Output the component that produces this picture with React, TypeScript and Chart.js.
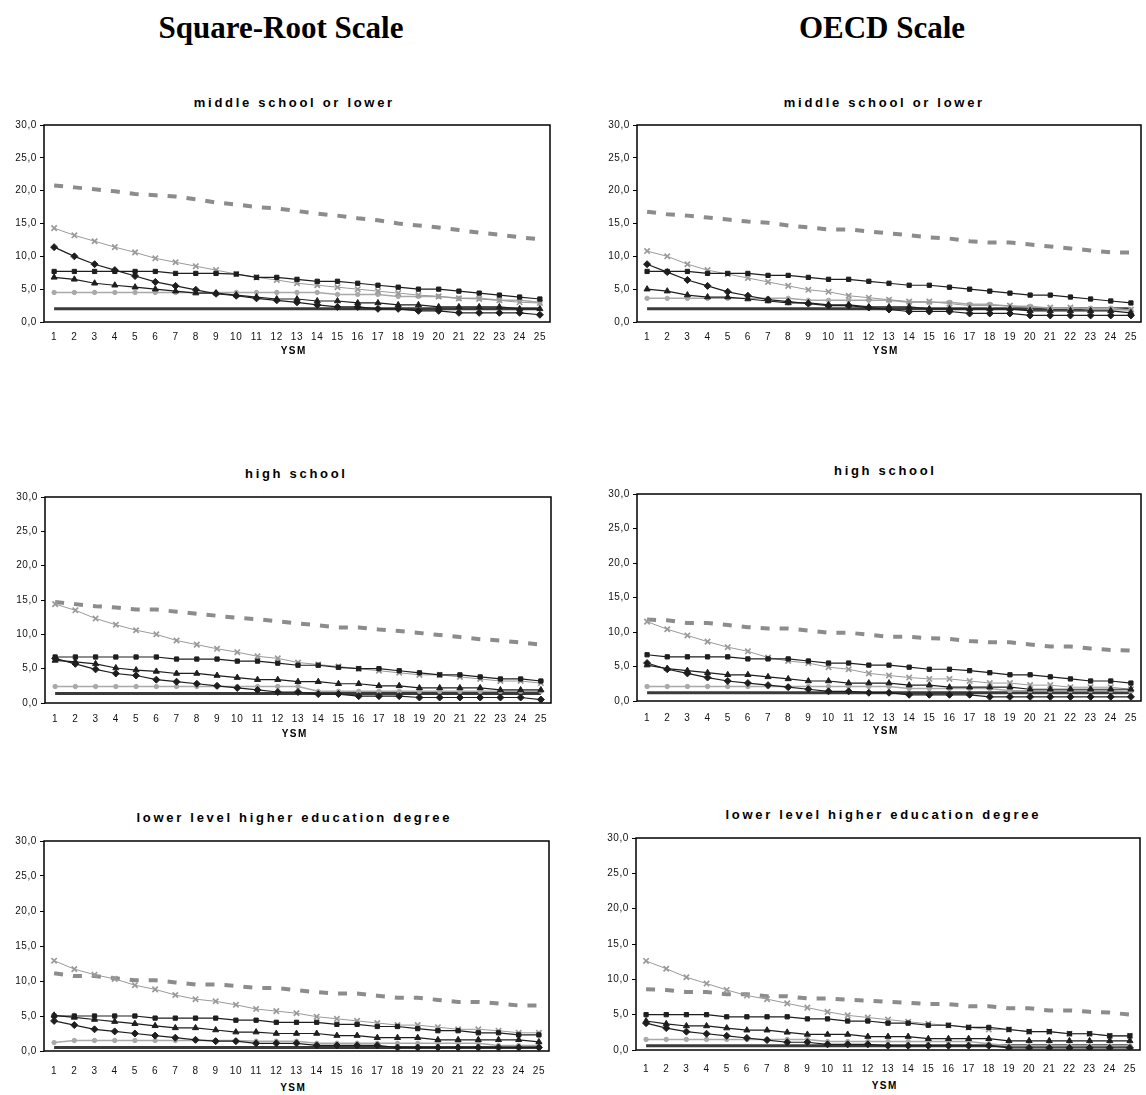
import React, { useEffect, useRef } from 'react';
import { Chart, registerables } from 'chart.js';

Chart.register(...registerables);

// ---------- Data ----------
const YSM_LABELS = ['1','2','3','4','5','6','7','8','9','10','11','12','13','14','15','16','17','18','19','20','21','22','23','24','25'];
const Y_TICKS = [0, 5, 10, 15, 20, 25, 30];

// Square-root scale, middle school or lower
const srMsDashed = [20.8,20.5,20.2,19.9,19.5,19.3,19.1,18.7,18.2,17.9,17.5,17.3,16.9,16.5,16.2,15.8,15.5,15.0,14.7,14.4,14.0,13.6,13.3,12.9,12.6];
const srMsCross = [14.3,13.2,12.3,11.4,10.6,9.7,9.1,8.5,7.9,7.3,6.8,6.4,5.9,5.6,5.3,5.0,4.7,4.4,4.1,3.9,3.6,3.5,3.3,3.0,2.9];
const srMsSquare = [7.7,7.7,7.7,7.7,7.7,7.7,7.4,7.4,7.4,7.3,6.8,6.8,6.5,6.2,6.2,5.9,5.6,5.3,5.0,5.0,4.7,4.4,4.1,3.8,3.5];
const srMsDiamond = [11.4,10.0,8.8,7.9,7.0,6.1,5.5,4.9,4.3,4.0,3.6,3.3,3.0,2.6,2.3,2.3,2.0,2.0,1.7,1.7,1.4,1.4,1.4,1.4,1.1];
const srMsTriangle = [6.8,6.5,5.9,5.6,5.3,5.0,4.7,4.4,4.4,4.1,3.8,3.5,3.5,3.2,3.2,2.9,2.9,2.6,2.6,2.3,2.3,2.3,2.3,2.0,2.0];
const srMsCircle = [4.5,4.5,4.5,4.5,4.5,4.5,4.5,4.5,4.5,4.5,4.5,4.5,4.5,4.5,4.2,4.2,4.2,3.9,3.9,3.9,3.6,3.6,3.3,3.3,3.0];
const srMsFlat = [2.0,2.0,2.0,2.0,2.0,2.0,2.0,2.0,2.0,2.0,2.0,2.0,2.0,2.0,2.0,2.0,2.0,2.0,2.0,2.0,2.0,2.0,2.0,2.0,2.0];

// OECD scale, middle school or lower
const oeMsDashed = [16.8,16.4,16.2,15.9,15.6,15.3,15.1,14.7,14.4,14.1,14.1,13.8,13.5,13.2,12.9,12.7,12.3,12.1,12.1,11.8,11.5,11.2,10.9,10.6,10.6];
const oeMsCross = [10.8,10.0,8.8,7.9,7.3,6.7,6.1,5.5,4.9,4.6,4.0,3.7,3.4,3.1,3.1,2.8,2.5,2.5,2.5,2.2,2.2,2.2,1.9,1.9,1.9];
const oeMsSquare = [7.7,7.7,7.7,7.4,7.4,7.4,7.1,7.1,6.8,6.5,6.5,6.2,5.9,5.6,5.6,5.3,5.0,4.7,4.4,4.1,4.1,3.8,3.5,3.2,2.9];
const oeMsDiamond = [8.8,7.6,6.4,5.5,4.6,4.0,3.4,3.1,2.8,2.5,2.5,2.2,1.9,1.6,1.6,1.6,1.3,1.3,1.3,1.0,1.0,1.0,1.0,1.0,1.0];
const oeMsTriangle = [5.0,4.7,4.1,3.8,3.8,3.5,3.2,2.9,2.9,2.6,2.6,2.3,2.3,2.3,2.0,2.0,2.0,2.0,2.0,1.7,1.7,1.7,1.7,1.7,1.4];
const oeMsCircle = [3.6,3.6,3.6,3.6,3.6,3.6,3.6,3.6,3.3,3.3,3.3,3.3,3.3,3.0,3.0,3.0,2.7,2.7,2.4,2.4,2.1,2.1,2.1,2.1,1.8];
const oeMsFlat = [2.0,2.0,2.0,2.0,2.0,2.0,2.0,2.0,2.0,2.0,2.0,2.0,2.0,2.0,2.0,2.0,2.0,2.0,2.0,2.0,2.0,2.0,2.0,2.0,2.0];

// Square-root scale, high school
const srHsDashed = [14.7,14.4,14.1,13.9,13.6,13.6,13.3,13.0,12.7,12.4,12.2,11.9,11.6,11.3,11.0,11.0,10.7,10.5,10.2,9.9,9.6,9.3,9.1,8.8,8.5];
const srHsCross = [14.4,13.5,12.3,11.4,10.6,10.0,9.1,8.5,7.9,7.4,6.8,6.5,5.9,5.6,5.3,5.0,4.7,4.4,4.1,4.1,3.8,3.5,3.2,3.2,2.9];
const srHsSquare = [6.7,6.7,6.7,6.7,6.7,6.7,6.4,6.4,6.4,6.1,6.1,5.8,5.5,5.5,5.2,5.0,5.0,4.7,4.4,4.1,4.1,3.8,3.5,3.5,3.2];
const srHsDiamond = [6.5,5.7,4.9,4.3,4.0,3.4,3.1,2.8,2.5,2.2,1.9,1.6,1.6,1.3,1.3,1.0,1.0,1.0,0.8,0.8,0.8,0.8,0.8,0.8,0.5];
const srHsTriangle = [6.2,6.0,5.7,5.1,4.8,4.6,4.3,4.3,4.0,3.7,3.4,3.4,3.1,3.1,2.8,2.8,2.5,2.5,2.2,2.2,2.2,2.2,1.9,1.9,1.9];
const srHsCircle = [2.4,2.4,2.4,2.4,2.4,2.4,2.4,2.4,2.4,2.4,2.4,2.4,2.4,1.7,1.7,1.7,1.7,1.7,1.7,1.7,1.7,1.7,1.7,1.7,1.7];
const srHsFlat = [1.4,1.4,1.4,1.4,1.4,1.4,1.4,1.4,1.4,1.4,1.4,1.4,1.4,1.4,1.4,1.4,1.4,1.4,1.4,1.4,1.4,1.4,1.4,1.4,1.4];

// OECD scale, high school
const oeHsDashed = [11.8,11.7,11.3,11.3,11.0,10.7,10.5,10.5,10.2,9.9,9.9,9.6,9.3,9.3,9.1,9.0,8.7,8.5,8.5,8.2,7.9,7.9,7.6,7.4,7.3];
const oeHsCross = [11.5,10.4,9.5,8.6,7.8,7.2,6.3,5.8,5.5,4.9,4.6,4.0,3.7,3.4,3.2,3.2,2.9,2.6,2.6,2.3,2.3,2.0,2.0,2.0,1.7];
const oeHsSquare = [6.7,6.4,6.4,6.4,6.4,6.1,6.1,6.1,5.8,5.5,5.5,5.2,5.2,4.9,4.6,4.6,4.4,4.1,3.8,3.8,3.5,3.2,2.9,2.9,2.6];
const oeHsDiamond = [5.5,4.6,4.0,3.4,2.9,2.6,2.3,2.0,1.7,1.4,1.4,1.2,1.2,0.9,0.9,0.9,0.9,0.6,0.6,0.6,0.6,0.6,0.6,0.6,0.6];
const oeHsTriangle = [5.2,4.7,4.4,4.1,3.8,3.8,3.5,3.2,2.9,2.9,2.6,2.6,2.6,2.3,2.3,2.0,2.0,2.0,2.0,1.7,1.7,1.7,1.7,1.7,1.7];
const oeHsCircle = [2.1,2.1,2.1,2.1,2.1,2.1,2.1,2.1,2.1,2.1,2.1,2.1,2.1,1.8,1.8,1.8,1.8,1.8,1.5,1.5,1.5,1.5,1.5,1.5,1.4];
const oeHsFlat = [1.2,1.2,1.2,1.2,1.2,1.2,1.2,1.2,1.2,1.2,1.2,1.2,1.2,1.2,1.2,1.2,1.2,1.2,1.2,1.2,1.2,1.2,1.2,1.2,1.2];

// Square-root scale, lower level higher education degree
const srHeDashed = [11.1,10.7,10.7,10.4,10.1,10.1,9.8,9.5,9.5,9.3,9.0,9.0,8.7,8.4,8.2,8.2,7.9,7.6,7.6,7.3,7.0,7.0,6.8,6.5,6.5];
const srHeCross = [12.9,11.7,10.9,10.3,9.4,8.8,8.0,7.4,7.1,6.6,6.0,5.7,5.4,4.9,4.6,4.3,4.0,3.7,3.7,3.4,3.1,3.1,2.9,2.6,2.6];
const srHeSquare = [5.0,5.0,5.0,5.0,5.0,4.7,4.7,4.7,4.7,4.4,4.4,4.1,4.1,4.1,3.8,3.8,3.5,3.5,3.2,2.9,2.9,2.6,2.6,2.3,2.3];
const srHeDiamond = [4.3,3.7,3.1,2.8,2.5,2.2,1.9,1.6,1.4,1.4,1.1,1.1,1.1,0.8,0.8,0.8,0.8,0.5,0.5,0.5,0.5,0.5,0.5,0.5,0.5];
const srHeTriangle = [5.1,4.8,4.5,4.2,3.9,3.6,3.3,3.3,3.0,2.7,2.7,2.5,2.5,2.5,2.2,2.2,1.9,1.9,1.9,1.6,1.6,1.6,1.6,1.6,1.3];
const srHeCircle = [1.2,1.5,1.5,1.5,1.5,1.5,1.5,1.5,1.5,1.5,1.4,1.4,1.4,1.1,1.1,1.1,1.1,1.1,1.1,1.1,1.1,1.1,0.8,0.8,0.8];
const srHeFlat = [0.5,0.5,0.5,0.5,0.5,0.5,0.5,0.5,0.5,0.5,0.5,0.5,0.5,0.5,0.5,0.5,0.5,0.5,0.5,0.5,0.5,0.5,0.5,0.5,0.5];

// OECD scale, lower level higher education degree
const oeHeDashed = [8.6,8.5,8.2,8.2,7.9,7.9,7.6,7.6,7.3,7.3,7.1,7.0,6.8,6.7,6.5,6.5,6.2,6.2,5.9,5.9,5.6,5.6,5.4,5.3,5.0];
const oeHeCross = [12.6,11.5,10.3,9.4,8.5,7.7,7.2,6.6,6.0,5.4,4.9,4.6,4.3,4.0,3.7,3.5,3.2,2.9,2.9,2.6,2.6,2.3,2.3,2.0,2.0];
const oeHeSquare = [5.0,5.0,5.0,5.0,4.7,4.7,4.7,4.7,4.4,4.4,4.1,4.1,3.8,3.8,3.5,3.5,3.2,3.2,2.9,2.6,2.6,2.3,2.3,2.0,2.0];
const oeHeDiamond = [3.8,3.1,2.6,2.3,2.0,1.7,1.4,1.1,1.1,0.8,0.8,0.8,0.6,0.6,0.6,0.6,0.6,0.6,0.3,0.3,0.3,0.3,0.3,0.3,0.3];
const oeHeTriangle = [4.1,3.7,3.4,3.4,3.1,2.8,2.8,2.5,2.2,2.2,2.2,1.9,1.9,1.9,1.6,1.6,1.6,1.6,1.3,1.3,1.3,1.3,1.3,1.3,1.3];
const oeHeCircle = [1.5,1.5,1.5,1.5,1.5,1.5,1.5,1.5,1.5,1.2,1.2,1.2,1.2,1.2,1.2,1.2,1.2,0.9,0.6,0.6,0.6,0.6,0.6,0.6,0.6];
const oeHeFlat = [0.6,0.6,0.6,0.6,0.6,0.6,0.6,0.6,0.6,0.6,0.6,0.6,0.6,0.6,0.6,0.6,0.6,0.6,0.6,0.6,0.6,0.6,0.6,0.6,0.6];

const COLUMN_TITLES = ['Square-Root Scale', 'OECD Scale'];
const PANEL_TITLES = ['middle school or lower', 'high school', 'lower level higher education degree'];
const X_TITLE = 'YSM';

// ---------- Styling / layout ----------
type Series = {
  dashed: number[]; cross: number[]; square: number[]; diamond: number[];
  triangle: number[]; circle: number[]; flat: number[];
};
type Rect = { L: number; R: number; T: number; B: number };

const Y_AXIS_W = 44;
const TOP_PAD = 8;
const RIGHT_PAD = 6;
const X_AXIS_H = 26;

const SANS = '"Liberation Sans", Arial, sans-serif';
const SERIF = '"Liberation Serif", "Times New Roman", serif';

function buildDatasets(s: Series) {
  const black = '#1e1e1e';
  const base = { fill: false, tension: 0, pointHoverRadius: 0 } as any;
  return [
    { ...base, label: 'diamond', data: s.diamond, borderColor: black, backgroundColor: black, borderWidth: 1.2,
      pointStyle: 'rectRot', pointRadius: 3.5, pointBorderWidth: 1 },
    { ...base, label: 'triangle', data: s.triangle, borderColor: black, backgroundColor: black, borderWidth: 1.2,
      pointStyle: 'triangle', pointRadius: 3.5, pointBorderWidth: 1 },
    { ...base, label: 'square', data: s.square, borderColor: black, backgroundColor: black, borderWidth: 1.2,
      pointStyle: 'rect', pointRadius: 3, pointBorderWidth: 1 },
    { ...base, label: 'cross', data: s.cross, borderColor: '#9a9a9a', backgroundColor: '#9a9a9a', borderWidth: 1,
      pointStyle: 'crossRot', pointRadius: 3.8, pointBorderWidth: 1.7 },
    { ...base, label: 'circle', data: s.circle, borderColor: '#a9a9a9', backgroundColor: '#a9a9a9', borderWidth: 1.5,
      pointStyle: 'circle', pointRadius: 2.2, pointBorderWidth: 1 },
    { ...base, label: 'dashed', data: s.dashed, borderColor: '#8c8c8c', borderWidth: 4, borderDash: [9, 10],
      borderCapStyle: 'butt', pointRadius: 0 },
    { ...base, label: 'flat', data: s.flat, borderColor: '#3a3a3a', borderWidth: 3, pointRadius: 0 },
  ];
}

const framePlugin = {
  id: 'frame',
  beforeDraw(chart: any) {
    chart.ctx.letterSpacing = '0.6px';
  },
  beforeDatasetsDraw(chart: any) {
    const { ctx, chartArea } = chart;
    ctx.save();
    ctx.strokeStyle = '#000';
    ctx.lineWidth = 1.5;
    ctx.strokeRect(chartArea.left, chartArea.top, chartArea.right - chartArea.left, chartArea.bottom - chartArea.top);
    ctx.restore();
  },
};

function Panel({ series, rect, labelPad }: { series: Series; rect: Rect; labelPad: number }) {
  const ref = useRef<HTMLCanvasElement>(null);
  useEffect(() => {
    const chart = new Chart(ref.current as HTMLCanvasElement, {
      type: 'line',
      data: { labels: YSM_LABELS, datasets: buildDatasets(series) as any },
      options: {
        animation: false,
        responsive: true,
        maintainAspectRatio: false,
        events: [],
        layout: { padding: { left: 0, top: TOP_PAD, right: RIGHT_PAD, bottom: 0 } },
        plugins: { legend: { display: false }, tooltip: { enabled: false }, title: { display: false } },
        scales: {
          x: {
            type: 'category',
            offset: true,
            grid: { display: false },
            border: { display: false },
            ticks: { color: '#111', font: { family: SANS, size: 10 }, padding: labelPad, maxRotation: 0, autoSkip: false },
            afterFit: (s: any) => { s.height = X_AXIS_H; },
          },
          y: {
            min: 0,
            max: 30,
            afterBuildTicks: (s: any) => { s.ticks = Y_TICKS.map((v) => ({ value: v })); },
            grid: { display: true, drawOnChartArea: false, drawTicks: true, tickLength: 4, color: '#000', lineWidth: 1 },
            border: { display: false },
            ticks: {
              color: '#111', font: { family: SANS, size: 10 }, padding: 3,
              callback: (v: any) => Number(v).toFixed(1).replace('.', ','),
            },
            afterFit: (s: any) => { s.width = Y_AXIS_W; },
          },
        },
      },
      plugins: [framePlugin],
    });
    return () => chart.destroy();
  }, [series]);
  const w = rect.R - rect.L + Y_AXIS_W + RIGHT_PAD;
  const h = rect.B - rect.T + TOP_PAD + X_AXIS_H;
  return (
    <div style={{ position: 'absolute', left: rect.L - Y_AXIS_W, top: rect.T - TOP_PAD, width: w, height: h }}>
      <canvas ref={ref} />
    </div>
  );
}

function Label({ x, y, text, size, bold = true, family = SANS, spacing = 0 }:
  { x: number; y: number; text: string; size: number; bold?: boolean; family?: string; spacing?: number }) {
  const lh = Math.round(size * 1.3);
  return (
    <div style={{
      position: 'absolute', left: x - 300 + spacing / 2, width: 600, top: y - lh / 2, height: lh, lineHeight: lh + 'px',
      textAlign: 'center', fontFamily: family, fontSize: size, fontWeight: bold ? 700 : 400,
      letterSpacing: spacing + 'px', color: '#000', whiteSpace: 'nowrap',
    }}>{text}</div>
  );
}

const PANELS: { series: Series; rect: Rect; title: string; titleX: number; titleY: number; xTitleY: number; labelPad: number }[] = [
  { series: { dashed: srMsDashed, cross: srMsCross, square: srMsSquare, diamond: srMsDiamond, triangle: srMsTriangle, circle: srMsCircle, flat: srMsFlat },
    rect: { L: 44, R: 550, T: 124, B: 322 }, title: PANEL_TITLES[0], titleX: 293, titleY: 102, xTitleY: 350, labelPad: 1 },
  { series: { dashed: oeMsDashed, cross: oeMsCross, square: oeMsSquare, diamond: oeMsDiamond, triangle: oeMsTriangle, circle: oeMsCircle, flat: oeMsFlat },
    rect: { L: 637, R: 1141, T: 124, B: 322 }, title: PANEL_TITLES[0], titleX: 883, titleY: 102, xTitleY: 350, labelPad: 1 },
  { series: { dashed: srHsDashed, cross: srHsCross, square: srHsSquare, diamond: srHsDiamond, triangle: srHsTriangle, circle: srHsCircle, flat: srHsFlat },
    rect: { L: 45, R: 551, T: 496, B: 703 }, title: PANEL_TITLES[1], titleX: 295, titleY: 473, xTitleY: 733, labelPad: 2 },
  { series: { dashed: oeHsDashed, cross: oeHsCross, square: oeHsSquare, diamond: oeHsDiamond, triangle: oeHsTriangle, circle: oeHsCircle, flat: oeHsFlat },
    rect: { L: 637, R: 1141, T: 493, B: 701 }, title: PANEL_TITLES[1], titleX: 884, titleY: 470, xTitleY: 730, labelPad: 3 },
  { series: { dashed: srHeDashed, cross: srHeCross, square: srHeSquare, diamond: srHeDiamond, triangle: srHeTriangle, circle: srHeCircle, flat: srHeFlat },
    rect: { L: 44, R: 549, T: 840, B: 1051 }, title: PANEL_TITLES[2], titleX: 293, titleY: 817, xTitleY: 1087, labelPad: 6 },
  { series: { dashed: oeHeDashed, cross: oeHeCross, square: oeHeSquare, diamond: oeHeDiamond, triangle: oeHeTriangle, circle: oeHeCircle, flat: oeHeFlat },
    rect: { L: 636, R: 1140, T: 837, B: 1050 }, title: PANEL_TITLES[2], titleX: 882, titleY: 814, xTitleY: 1085, labelPad: 5 },
];

export default function App() {
  return (
    <div style={{ position: 'absolute', left: 0, top: 0, width: 1146, height: 1095, background: '#fff', overflow: 'hidden' }}>
      <Label x={281} y={28} text={COLUMN_TITLES[0]} size={31} family={SERIF} />
      <Label x={882} y={28} text={COLUMN_TITLES[1]} size={31} family={SERIF} />
      {PANELS.map((p, i) => (
        <React.Fragment key={i}>
          <Label x={p.titleX} y={p.titleY} text={p.title} size={13} spacing={2.7} />
          <Panel series={p.series} rect={p.rect} labelPad={p.labelPad} />
          <Label x={(p.rect.L + p.rect.R) / 2 - 4} y={p.xTitleY} text={X_TITLE} size={10} spacing={1.5} />
        </React.Fragment>
      ))}
    </div>
  );
}
